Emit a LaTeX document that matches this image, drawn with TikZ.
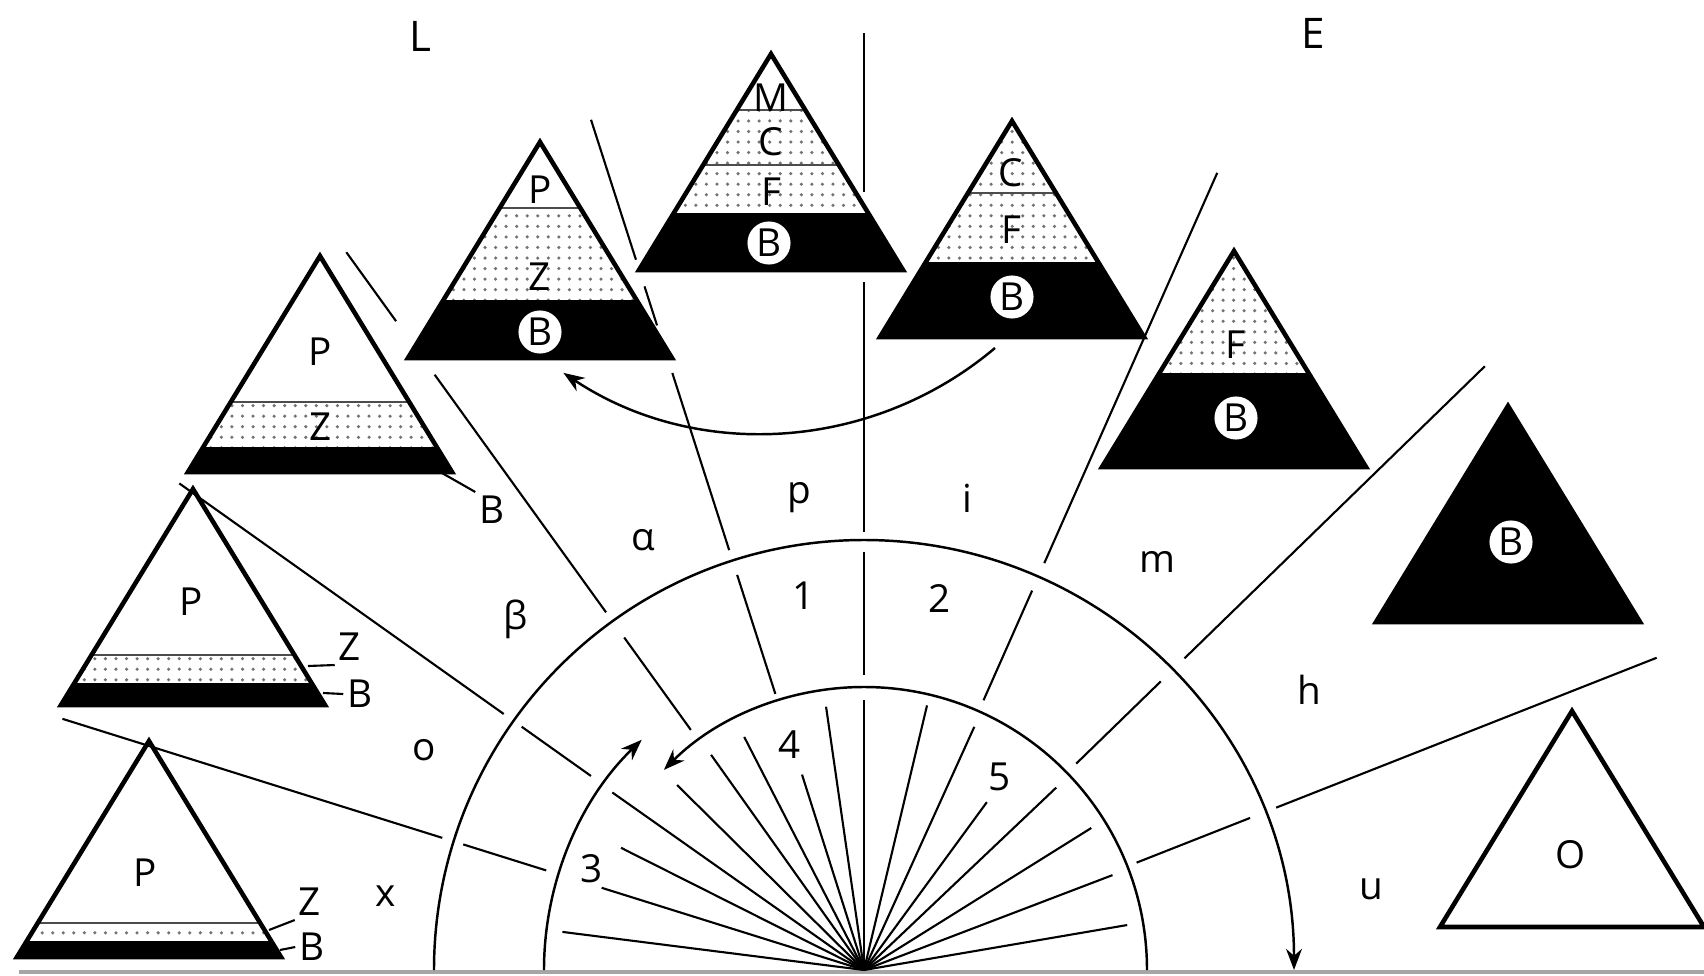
\documentclass[tikz,border=0pt]{standalone}
\usepackage{fontspec}
\setmainfont{Open Sans}
\usetikzlibrary{arrows.meta,patterns}

% one pyramid: base centre x, y and the bands inside it
\newcommand{\pyramid}[3]{%
  \begin{scope}[shift={(#1,#2)}]
    \begin{scope}
      \clip (-1.32,0) -- (0,2.16) -- (1.32,0) -- cycle;
      #3
    \end{scope}
    \draw[pyr] (-1.32,0) -- (0,2.16) -- (1.32,0) -- cycle;
  \end{scope}}

\begin{document}
\begin{tikzpicture}[
    pyr/.style={line width=1.3pt,line join=miter},
    stip/.style={pattern=dots,pattern color=black!55},
    seam/.style={line width=0.5pt,black!70},
    rule/.style={line width=0.6pt},
    spoke/.style={line width=0.6pt},
    tag/.style={font=\fontsize{11}{13}\selectfont,inner sep=1pt},
    head/.style={font=\fontsize{12}{14}\selectfont,inner sep=1pt},
    ring/.style={circle,fill=white,inner sep=0.6pt,font=\fontsize{11}{13}\selectfont},
    arrow/.style={line width=0.7pt,-{Stealth[length=6pt,width=4.5pt]}}
]
\useasboundingbox (-8.64,-0.05) rectangle (8.40,9.70);

% baseline
\draw[gray!70,line width=0.9pt] (-8.45,-0.02) -- (8.40,-0.02);

% spokes inside the inner arcs
\foreach \a/\r in {172.8/3.04,162.6/2.75,153.3/2.72,144.8/3.08,135.3/2.63,125.4/2.64,117.2/2.62,107.6/2.05,98.2/2.66,90/2.70,76.6/2.72,65.6/2.67,53.8/2.08,43.5/2.65,32/2.68,20.9/2.66,9.7/2.67}
  \draw[spoke] (0,0) -- (\a:\r);

% sector dividers
\draw[rule] (162.6:3.33) -- (162.6:4.20) (162.6:4.42) -- (162.6:8.40); % x | o
\draw[rule] (144.6:3.35) -- (144.6:4.20) (144.6:4.42) -- (144.6:8.40); % o | beta
\draw[rule] (125.8:2.96) -- (125.8:4.10) (125.8:4.41) -- (125.8:7.34) (125.8:8.00) -- (125.8:8.85); % beta | alpha
\draw[rule] (107.8:2.90) -- (107.8:4.15) (107.8:4.41) -- (107.8:6.27) (107.8:6.77) -- (107.8:7.18) (107.8:7.46) -- (107.8:8.93); % alpha | p
\draw[rule] (90:2.95) -- (90:4.18) (90:4.38) -- (90:6.88) (90:7.78) -- (90:9.37); % p | i
\draw[rule] (66.1:2.95) -- (66.1:4.15) (66.1:4.45) -- (66.1:8.72); % i | m
\draw[rule] (44.2:2.96) -- (44.2:4.14) (44.2:4.47) -- (44.2:8.66); % m | h
\draw[rule] (21.5:2.93) -- (21.5:4.15) (21.5:4.43) -- (21.5:8.52); % h | u

% arcs
\draw[arrow] (180:4.30) arc[start angle=180,end angle=0,radius=4.30];
\draw[arrow] (0:2.83) arc[start angle=0,end angle=135,radius=2.83];
\draw[arrow] (180:3.20) arc[start angle=180,end angle=134,radius=3.20];

% pyramids, left to right
\pyramid{-7.15}{0.13}{\fill[stip] (-2,0.16) rectangle (2,0.34); \fill (-2,0) rectangle (2,0.16); \draw[seam] (-2,0.34) -- (2,0.34);}
\pyramid{-6.71}{2.65}{\fill[stip] (-2,0.22) rectangle (2,0.50); \fill (-2,0) rectangle (2,0.22); \draw[seam] (-2,0.50) -- (2,0.50);}
\pyramid{-5.44}{4.98}{\fill[stip] (-2,0.25) rectangle (2,0.70); \fill (-2,0) rectangle (2,0.25); \draw[seam] (-2,0.70) -- (2,0.70);}
\pyramid{-3.24}{6.12}{\fill[stip] (-2,0.58) rectangle (2,1.50); \fill (-2,0) rectangle (2,0.58); \draw[seam] (-2,1.50) -- (2,1.50);}
\pyramid{-0.93}{7.00}{\fill[stip] (-2,0.57) rectangle (2,1.60); \fill (-2,0) rectangle (2,0.57); \draw[seam] (-2,1.05) -- (2,1.05) (-2,1.60) -- (2,1.60);}
\pyramid{1.48}{6.33}{\fill[stip] (-2,0.75) rectangle (2,2.2); \fill (-2,0) rectangle (2,0.75); \draw[seam] (-2,1.44) -- (2,1.44);}
\pyramid{3.70}{5.03}{\fill[stip] (-2,0.94) rectangle (2,2.2); \fill (-2,0) rectangle (2,0.94);}
\pyramid{6.44}{3.48}{\fill (-2,0) rectangle (2,2.2);}
\pyramid{7.08}{0.43}{}

% pyramid labels
\node[tag] (p1) at (-7.19,0.97) {P};
\node[tag] (z1) at (-5.54,0.68) {Z};
\node[tag] (b1) at (-5.52,0.23) {B};
\draw[rule] (-5.95,0.40) -- (z1.south west);
\draw[rule] (-5.84,0.20) -- (b1.west);

\node[tag] (p2) at (-6.73,3.68) {P};
\node[tag] (z2) at (-5.14,3.23) {Z};
\node[tag] (b2) at (-5.04,2.76) {B};
\draw[rule] (-5.56,3.04) -- (z2.south west);
\draw[rule] (-5.41,2.77) -- (b2.west);

\node[tag] (p3) at (-5.44,6.18) {P};
\node[tag] (z3) at (-5.43,5.43) {Z};
\node[tag] (b3) at (-3.72,4.60) {B};
\draw[rule] (-4.22,4.97) -- (b3.north west);

\node[tag] (p4) at (-3.24,7.80) {P};
\node[tag] (z4) at (-3.24,6.93) {Z};
\node[ring] (b4) at (-3.24,6.38) {B};

\node[tag] (m5) at (-0.93,8.72) {M};
\node[tag] (c5) at (-0.93,8.28) {C};
\node[tag] (f5) at (-0.93,7.78) {F};
\node[ring] (b5) at (-0.95,7.27) {B};

\node[tag] (c6) at (1.47,7.97) {C};
\node[tag] (f6) at (1.47,7.40) {F};
\node[ring] (b6) at (1.48,6.73) {B};

\node[tag] (f7) at (3.71,6.25) {F};
\node[ring] (b7) at (3.72,5.52) {B};

\node[ring] (b8) at (6.47,4.28) {B};
\node[tag] (o9) at (7.07,1.15) {O};

% shift from the right pyramid back to the left one
\coordinate (arrS) at (1.31,6.22);
\draw[arrow] (arrS) arc[start angle=-49.8,end angle=-123.6,radius=3.60] coordinate (arrE);

% headings
\node[head] (lft) at (-4.44,9.34) {L};
\node[head] (rgt) at (4.49,9.37) {E};

% sector labels
\node[tag] (sx) at (-4.78,0.74) {x};
\node[tag] (so) at (-4.40,2.20) {o};
\node[tag] (sb) at (-3.48,3.51) {β};
\node[tag] (sa) at (-2.21,4.30) {α};
\node[tag] (sp) at (-0.65,4.72) {p};
\node[tag] (si) at (1.03,4.72) {i};
\node[tag] (sm) at (2.93,4.08) {m};
\node[tag] (sh) at (4.45,2.80) {h};
\node[tag] (su) at (5.07,0.81) {u};

% ring numbers
\node[tag] (n1) at (-0.60,3.74) {1};
\node[tag] (n2) at (0.76,3.72) {2};
\node[tag] (n3) at (-2.72,1.01) {3};
\node[tag] (n4) at (-0.74,2.25) {4};
\node[tag] (n5) at (1.36,1.93) {5};

\end{tikzpicture}
\end{document}
